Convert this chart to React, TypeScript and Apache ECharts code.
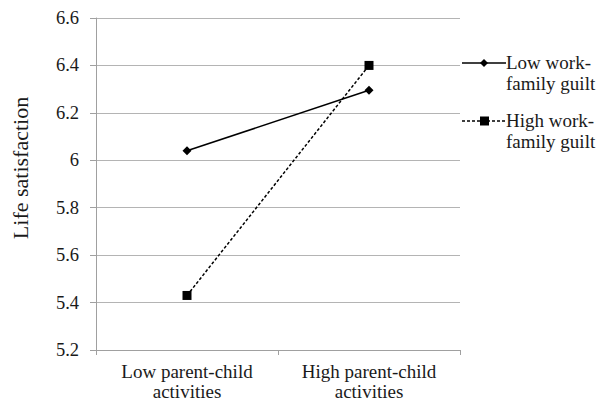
import React, { useEffect, useRef } from "react";
import * as echarts from "echarts";

const categories = ["Low parent-child\nactivities", "High parent-child\nactivities"];
const seriesNames = ["Low work-family guilt", "High work-family guilt"];
const legendLines = [
  ["Low work-", "family guilt"],
  ["High work-", "family guilt"],
];
const lowGuilt = [6.04, 6.295];
const highGuilt = [5.43, 6.4];
const yMin = 5.2;
const yMax = 6.6;
const yStep = 0.2;

const FONT = "Liberation Serif";
const TXT = "#1a1a1a";

export default function App() {
  const ref = useRef<HTMLDivElement>(null);
  useEffect(() => {
    document.body.style.margin = "0";
    const chart = echarts.init(ref.current!, null, { renderer: "svg" });
    const legendX = 462;
    const legendYs = [63, 121];
    const graphic: any[] = [
      {
        type: "text",
        x: 20,
        y: 168,
        rotation: Math.PI / 2,
        style: {
          text: "Life satisfaction",
          fontFamily: FONT,
          fontSize: 22,
          fill: TXT,
          align: "center",
          verticalAlign: "middle",
        },
      },
    ];
    legendYs.forEach((ly, i) => {
      graphic.push({
        type: "line",
        shape: { x1: legendX, y1: ly, x2: legendX + 44, y2: ly },
        style: { stroke: "#000", lineWidth: 1.3, lineDash: i === 1 ? [3, 2] : null },
      });
      if (i === 0) {
        graphic.push({
          type: "polygon",
          shape: { points: [[legendX + 22, ly - 4], [legendX + 26, ly], [legendX + 22, ly + 4], [legendX + 18, ly]] },
          style: { fill: "#000" },
        });
      } else {
        graphic.push({
          type: "rect",
          shape: { x: legendX + 18, y: ly - 4.5, width: 9, height: 9 },
          style: { fill: "#000" },
        });
      }
      graphic.push({
        type: "text",
        x: legendX + 44,
        y: ly - 11,
        style: {
          text: legendLines[i].join("\n"),
          fontFamily: FONT,
          fontSize: 19,
          lineHeight: 21,
          fill: TXT,
          align: "left",
          verticalAlign: "top",
        },
      });
    });

    chart.setOption({
      animation: false,
      backgroundColor: "#fff",
      grid: { left: 96, top: 18, right: 139, bottom: 53 },
      xAxis: {
        type: "category",
        data: categories,
        boundaryGap: true,
        axisLine: { lineStyle: { color: "#a0a0a0", width: 1 } },
        axisTick: { show: true, length: 5, lineStyle: { color: "#a0a0a0" } },
        axisLabel: {
          color: TXT,
          fontFamily: FONT,
          fontSize: 19,
          lineHeight: 20,
          margin: 11,
        },
        splitLine: { show: false },
      },
      yAxis: {
        type: "value",
        min: yMin,
        max: yMax,
        interval: yStep,
        axisLine: { show: true, lineStyle: { color: "#a0a0a0", width: 1 } },
        axisTick: { show: true, length: 6, lineStyle: { color: "#a0a0a0" } },
        axisLabel: {
          color: TXT,
          fontFamily: FONT,
          fontSize: 18.5,
          margin: 17,
          formatter: (v: number) => String(Math.round(v * 10) / 10),
        },
        splitLine: { show: true, lineStyle: { color: "#b4b4b4", width: 1 } },
      },
      series: [
        {
          name: seriesNames[0],
          type: "line",
          data: lowGuilt,
          symbol: "diamond",
          symbolSize: [9, 9],
          lineStyle: { color: "#000", width: 1.5 },
          itemStyle: { color: "#000" },
        },
        {
          name: seriesNames[1],
          type: "line",
          data: highGuilt,
          symbol: "rect",
          symbolSize: 9,
          lineStyle: { color: "#000", width: 1.5, type: [3, 2] },
          itemStyle: { color: "#000" },
        },
      ],
      graphic,
    });
    return () => chart.dispose();
  }, []);
  return <div ref={ref} style={{ width: 599, height: 403 }} />;
}
